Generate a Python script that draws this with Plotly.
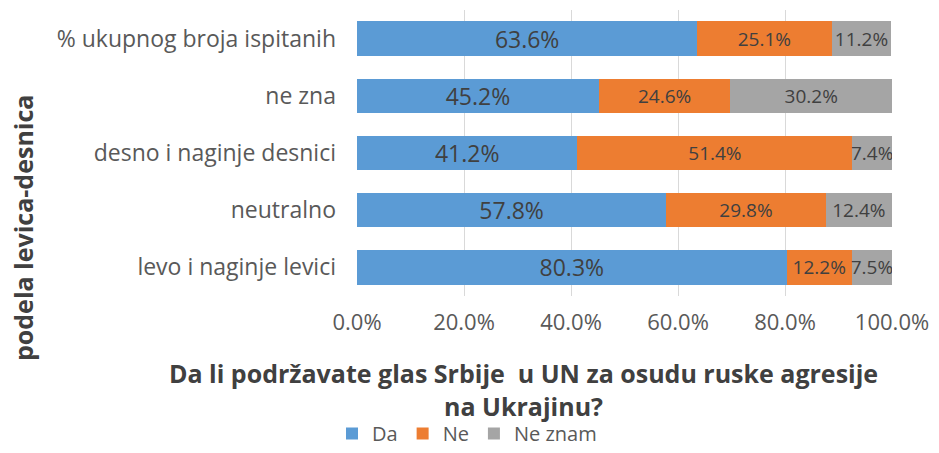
import plotly.graph_objects as go

categories = ["% ukupnog broja ispitanih", "ne zna", "desno i naginje desnici", "neutralno", "levo i naginje levici"]
da = [63.6, 45.2, 41.2, 57.8, 80.3]
ne = [25.1, 24.6, 51.4, 29.8, 12.2]
ne_znam = [11.2, 30.2, 7.4, 12.4, 7.5]
series_names = ["Da", "Ne", "Ne znam"]
colors = ["#5B9BD5", "#ED7D31", "#A5A5A5"]
tick_vals = [0, 20, 40, 60, 80, 100]
tick_text = ["0.0%", "20.0%", "40.0%", "60.0%", "80.0%", "100.0%"]

FONT = "Open Sans"
OFF = 8  # page body margin
W, H = 939 - OFF, 453 - OFF
L, R, T, B = 357 - OFF, 939 - 892, 10 - OFF, 453 - 296
fig = go.Figure()
for name, vals, col, fs in zip(series_names, [da, ne, ne_znam], colors, [23, 19, 19]):
    fig.add_trace(go.Bar(
        y=categories, x=vals, name=name, orientation="h",
        marker=dict(color=col, line=dict(width=0)),
        text=[f"{v:.1f}%" for v in vals],
        textposition="inside", insidetextanchor="middle",
        constraintext="none",
        textfont=dict(family=FONT, size=fs, color="#404040"),
        hoverinfo="skip",
    ))

fig.update_layout(
    width=W, height=H,
    barmode="stack", bargap=0.4,
    margin=dict(l=L, r=R, t=T, b=B),
    paper_bgcolor="white", plot_bgcolor="white",
    font=dict(family=FONT, color="#595959"),
    showlegend=True,
    legend=dict(orientation="h", xref="container", yref="container",
                x=(467 - OFF) / W, xanchor="center", y=0.0, yanchor="bottom",
                font=dict(size=20, color="#595959"), traceorder="normal",
                itemwidth=30, tracegroupgap=0),
    xaxis=dict(range=[0, 100], tickvals=tick_vals, ticktext=tick_text,
               showgrid=True, gridcolor="#D9D9D9", gridwidth=1,
               zeroline=False, showline=False,
               tickfont=dict(size=22, color="#595959"), ticks="", ticklen=0,
               ticklabelstandoff=11, fixedrange=True),
    yaxis=dict(categoryorder="array", categoryarray=categories, autorange="reversed",
               tickfont=dict(size=23, color="#595959"), ticks="",
               ticklabelstandoff=20, showline=False, showgrid=False),
)

ph = 296 - 10
fig.add_annotation(
    text="Da li podržavate glas Srbije  u UN za osudu ruske agresije<br>na Ukrajinu?",
    xref="paper", yref="paper", x=(523 - 357) / (892 - 357), y=(296 - 354) / ph,
    xanchor="center", yanchor="top", showarrow=False,
    font=dict(family=FONT, size=25, color="#404040", weight="bold"), align="center",
)
fig.add_annotation(
    text="podela levica-desnica", textangle=-90,
    xref="paper", yref="paper", x=(23 - 357) / (892 - 357), y=(296 - 228) / ph,
    xanchor="center", yanchor="middle", showarrow=False,
    font=dict(family=FONT, size=25, color="#404040", weight="bold"),
)

fig.write_html("out.html")
